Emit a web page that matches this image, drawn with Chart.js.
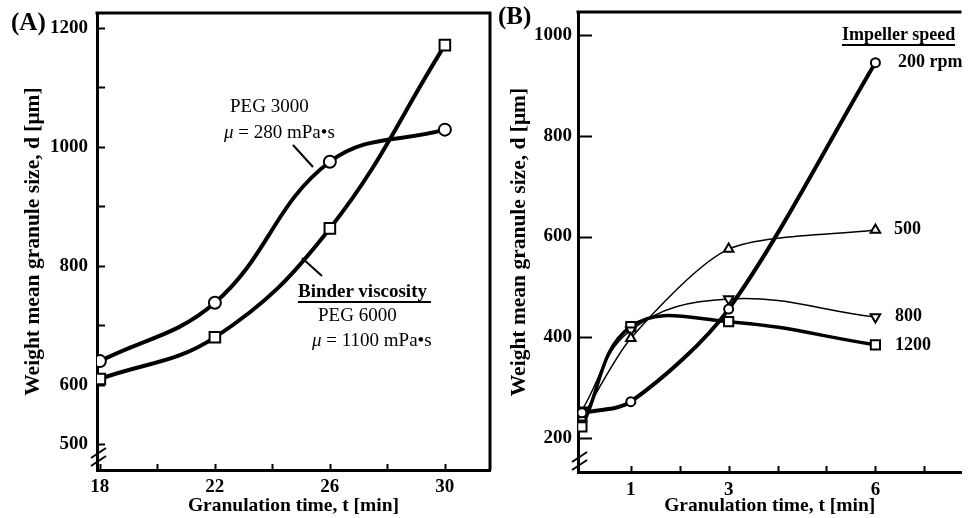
<!DOCTYPE html>
<html><head><meta charset="utf-8">
<script src="https://cdn.jsdelivr.net/npm/chart.js@4/dist/chart.umd.min.js"></script>
<style>
html,body{margin:0;padding:0;background:#fff;}
body{width:970px;height:518px;overflow:hidden;position:relative;font-family:"Liberation Serif","Times New Roman",serif;color:#000;}
.wrap{position:absolute;top:0;height:518px;}
.t{position:absolute;white-space:nowrap;font-size:19px;line-height:1;}
.b{font-weight:bold;}
.u{border-bottom:2px solid #000;padding-bottom:1px;}
</style></head><body>
<div class="wrap" style="left:0;width:500px"><canvas id="cA" width="500" height="518"></canvas></div>
<div class="wrap" style="left:480px;width:490px"><canvas id="cB" width="490" height="518"></canvas></div>

<div class="t b" style="left:11px;top:9px;font-size:25px">(A)</div>
<div class="t" style="left:230px;top:96px">PEG 3000</div>
<div class="t" style="left:224px;top:122px"><i>μ</i> = 280 mPa•s</div>
<div class="t b u" style="left:298px;top:281px;padding-right:4px">Binder viscosity</div>
<div class="t" style="left:318px;top:305px">PEG 6000</div>
<div class="t" style="left:312px;top:330px"><i>μ</i> = 1100 mPa•s</div>

<div class="t b" style="left:498px;top:3px;font-size:25px">(B)</div>
<div class="t b u" style="left:842px;top:25px;font-size:18px">Impeller speed</div>
<div class="t b" style="left:898px;top:52px;font-size:18px">200 rpm</div>
<div class="t b" style="left:894px;top:219px;font-size:18px">500</div>
<div class="t b" style="left:895px;top:306px;font-size:18px">800</div>
<div class="t b" style="left:895px;top:335px;font-size:18px">1200</div>

<script>
// ---- Panel A data ----
const timeA = [18, 22, 26, 30];
const peg3000 = [640, 738, 975, 1029];
const peg6000 = [610, 680, 863, 1171];
const yTickLabelsA = [500, 600, 800, 1000, 1200];
const xTickLabelsA = [18, 22, 26, 30];

// ---- Panel B data ----
const timeB = [0, 1, 3, 6];
const rpm200 = [250, 272, 456, 945];
const rpm500 = [240, 398, 575, 613];
const rpm800 = [255, 414, 476, 440];
const rpm1200 = [222, 421, 431, 385];
const yTickLabelsB = [200, 400, 600, 800, 1000];
const xTickLabelsB = [1, 3, 6];

const FONT = '"Liberation Serif", "Times New Roman", serif';
const pts = (xs, ys) => xs.map((x, i) => ({x: x, y: ys[i]}));

const deco = {
  id: 'deco',
  beforeDatasetsDraw(chart, args, o) {
    const {ctx, chartArea: a, scales} = chart;
    ctx.save();
    ctx.strokeStyle = '#000';
    ctx.lineCap = 'butt';
    ctx.lineWidth = 3;
    ctx.beginPath();
    ctx.moveTo(a.left - 1.5, a.top);
    ctx.lineTo(a.right, a.top);
    if (o.rightBorder) ctx.lineTo(a.right, a.bottom);
    ctx.stroke();
    ctx.lineWidth = 2;
    scales.y.ticks.forEach(t => {
      const y = Math.round(scales.y.getPixelForValue(t.value)) + 0.5;
      ctx.beginPath(); ctx.moveTo(a.left, y); ctx.lineTo(a.left + o.yTick, y); ctx.stroke();
    });
    scales.x.ticks.forEach(t => {
      const x = Math.round(scales.x.getPixelForValue(t.value)) + 0.5;
      ctx.beginPath(); ctx.moveTo(x, a.bottom); ctx.lineTo(x, a.bottom - o.xTick); ctx.stroke();
    });
    // axis break marks
    const bx = a.left, by = o.breakY;
    ctx.lineWidth = 2;
    [0, 8].forEach(d => {
      ctx.beginPath();
      ctx.moveTo(bx - 6, by + d + 5);
      ctx.lineTo(bx + 9, by + d - 5);
      ctx.stroke();
    });
    ctx.restore();
  },
  afterDraw(chart, args, o) {
    if (!o.leaders) return;
    const ctx = chart.ctx;
    ctx.save();
    ctx.strokeStyle = '#000';
    ctx.lineWidth = 2;
    o.leaders.forEach(l => {
      ctx.beginPath(); ctx.moveTo(l[0], l[1]); ctx.lineTo(l[2], l[3]); ctx.stroke();
    });
    ctx.restore();
  }
};

function makeScales(cfg) {
  return {
    x: {
      type: 'linear', min: cfg.xmin, max: cfg.xmax,
      afterFit: s => { s.height = cfg.xh; s.paddingLeft = 0; s.paddingRight = 0; },
      afterBuildTicks: s => { s.ticks = s.ticks.filter(t => t.value >= cfg.xFirst); },
      grid: {display: false, drawTicks: false},
      border: {display: true, width: 3, color: '#000'},
      ticks: {
        stepSize: cfg.xStep, includeBounds: false, autoSkip: false, maxRotation: 0,
        padding: cfg.xPad, color: '#000',
        font: {family: FONT, size: 19, weight: 'bold'},
        callback: v => cfg.xLabels.includes(v) ? String(v) : ''
      },
      title: {display: true, text: 'Granulation time, t [min]', color: '#000',
        font: {family: FONT, size: 19.5, weight: 'bold'}, padding: {top: 0, bottom: cfg.xTitlePad}}
    },
    y: {
      type: 'linear', min: cfg.ymin, max: cfg.ymax,
      afterFit: s => { s.width = cfg.yw; s.paddingTop = 0; s.paddingBottom = 0; },
      grid: {display: false, drawTicks: false},
      border: {display: true, width: 3, color: '#000'},
      ticks: {
        stepSize: cfg.yStep, includeBounds: false, autoSkip: false,
        padding: cfg.yPad, color: '#000',
        font: {family: FONT, size: 19, weight: 'bold'},
        callback: v => cfg.yLabels.includes(v) ? String(v) : ''
      },
      title: {display: true, text: 'Weight mean granule size, d [μm]', color: '#000',
        font: {family: FONT, size: 21.5, weight: 'bold'}, padding: {top: cfg.yTitlePad, bottom: 0}}
    }
  };
}

function ds(label, data, style, r, w, extra) {
  return Object.assign({
    label: label, data: data, showLine: true, tension: 0.4,
    borderColor: '#000', borderWidth: w, backgroundColor: '#fff',
    pointStyle: style, pointRadius: r, pointBorderWidth: 2,
    pointBackgroundColor: '#fff', pointBorderColor: '#000', pointHoverRadius: r
  }, extra || {});
}

new Chart(document.getElementById('cA'), {
  type: 'scatter',
  data: {datasets: [
    ds('PEG 3000', pts(timeA, peg3000), 'circle', 6, 4),
    ds('PEG 6000', pts(timeA, peg6000), 'rect', 7.5, 4)
  ]},
  options: {
    responsive: false, animation: false, devicePixelRatio: 1,
    layout: {padding: {top: 13, right: 10, left: 0, bottom: 0}},
    plugins: {legend: {display: false}, tooltip: {enabled: false},
      deco: {rightBorder: true, yTick: 8, xTick: 6, breakY: 453,
        leaders: [[293, 145, 313, 167], [302, 258, 322, 276]]}},
    scales: makeScales({xmin: 17.9, xmax: 31.57, xStep: 2, xFirst: 18, xLabels: xTickLabelsA, xh: 48, xPad: 6, xTitlePad: 0,
      ymin: 457, ymax: 1225, yStep: 100, yLabels: yTickLabelsA, yw: 97, yPad: 9, yTitlePad: 21})
  },
  plugins: [deco]
});

new Chart(document.getElementById('cB'), {
  type: 'scatter',
  data: {datasets: [
    ds('200 rpm', pts(timeB, rpm200), 'circle', 4.5, 4, {tension: 0.3}),
    ds('500', pts(timeB, rpm500), 'triangle', 5.5, 1.5, {tension: 0.25}),
    ds('800', pts(timeB, rpm800), 'triangle', 5.5, 1.5, {pointRotation: 180}),
    ds('1200', pts(timeB, rpm1200), 'rect', 6.5, 3.5)
  ]},
  options: {
    responsive: false, animation: false, devicePixelRatio: 1,
    layout: {padding: {top: 12, right: 0, left: 0, bottom: 0}},
    plugins: {legend: {display: false}, tooltip: {enabled: false},
      deco: {rightBorder: false, yTick: 14, xTick: 6, breakY: 457}},
    scales: makeScales({xmin: -0.08, xmax: 7.76, xStep: 1, xFirst: 1, xLabels: xTickLabelsB, xh: 46, xPad: 7, xTitlePad: 0,
      ymin: 132.5, ymax: 1045.7, yStep: 200, yLabels: yTickLabelsB, yw: 98, yPad: 6, yTitlePad: 27})
  },
  plugins: [deco]
});
</script>
</body></html>
